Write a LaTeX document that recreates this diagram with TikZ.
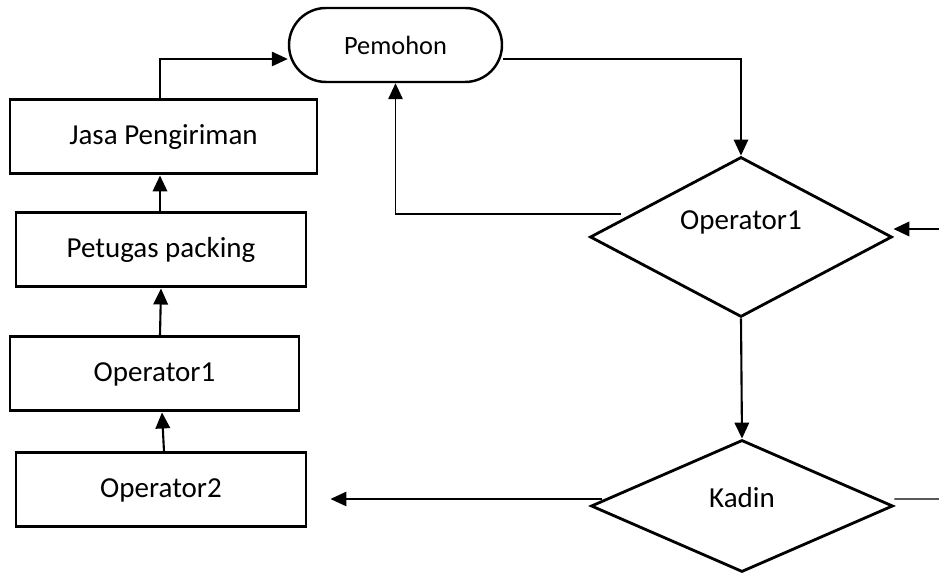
\documentclass[tikz,border=0pt]{standalone}
\usepackage{fontspec}
\setmainfont{Carlito}
\usepackage{tikz}
\usetikzlibrary{calc,arrows.meta,shapes.geometric}
\tikzset{
    kotak/.style={draw, line width=1.7pt, minimum height=1.48cm, inner sep=0pt, font=\fontsize{16.5}{18}\selectfont},
    terminal/.style={draw, line width=1.4pt, rounded corners=0.74cm, minimum width=4.26cm, minimum height=1.48cm, inner sep=0pt, font=\fontsize{15}{17}\selectfont},
    keputusan/.style={draw, diamond, line width=1.6pt, minimum width=6.04cm, inner sep=0pt},
    tekst/.style={font=\fontsize{16.5}{18}\selectfont},
    pijl/.style={line width=0.8pt, -{Triangle[length=0.32cm,width=0.29cm]}},
    pijldik/.style={line width=1.2pt, -{Triangle[length=0.32cm,width=0.29cm]}},
    lijn/.style={line width=0.8pt}
}

\begin{document}
\begin{tikzpicture}
    \useasboundingbox (0,0) rectangle (18.78,11.5);
    % linkerkolom
    \node[terminal] (pemohon) at (7.91,10.6) {Pemohon};
    \node[kotak, minimum width=6.14cm] (jasa) at (3.27,8.76) {Jasa Pengiriman};
    \node[kotak, minimum width=5.8cm] (petugas) at (3.22,6.5) {Petugas packing};
    \node[kotak, minimum width=5.78cm] (opbox) at (3.09,4.02) {Operator1};
    \node[kotak, minimum width=5.8cm] (optwee) at (3.22,1.7) {Operator2};
    % rechterkolom
    \node[keputusan, minimum height=3.2cm, label={[tekst, yshift=0.3cm]center:Operator1}] (opdia) at (14.82,6.76) {};
    \node[keputusan, minimum height=2.64cm, label={[tekst, yshift=0.16cm]center:Kadin}] (kadin) at (14.84,1.38) {};
    \coordinate (inR) at (18.78,6.92);
    \coordinate (terug) at ($(opdia.west)+(0.64,0.46)$);
    \coordinate (kadinL) at ($(kadin.west)+(0.24,0.14)$);
    \coordinate (kadinR) at ($(kadin.east)+(0,0.14)$);
    \coordinate (uitR) at (18.78,1.52);

    \draw[pijldik] ([xshift=0.06cm]optwee.north) -- ([xshift=0.15cm]opbox.south);
    \draw[pijldik] ([xshift=0.11cm]opbox.north) -- (petugas.south);
    \draw[pijldik] ([xshift=-0.02cm]petugas.north) -- ([xshift=-0.02cm]petugas.north |- jasa.south);
    \draw[pijl] ([xshift=-0.07cm]jasa.north) |- ([yshift=-0.28cm]pemohon.west);
    \draw[pijl] ([yshift=-0.28cm]pemohon.east) -| (opdia.north);
    \draw[pijl] (terug) -| (pemohon.south);
    \draw[pijldik] (inR) -- (inR -| opdia.east);
    \draw[pijldik] (opdia.south) -- (kadin.north);
    \draw[pijl] (kadinL) -- ([xshift=0.46cm]optwee.east |- kadinL);
    \draw[lijn] (kadinR) -- (uitR);
\end{tikzpicture}
\end{document}
